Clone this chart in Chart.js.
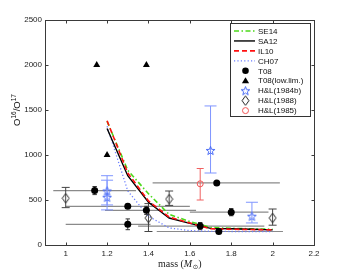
<!DOCTYPE html>
<html><head><meta charset="utf-8">
<script src="https://cdn.jsdelivr.net/npm/chart.js@4/dist/chart.umd.min.js"></script>
<style>html,body{margin:0;padding:0;background:#fff;}#wrap{width:347px;height:276px;}</style>
</head><body><div id="wrap"><canvas id="c" width="347" height="276"></canvas></div>
<script>
// ---- data ----
const xTicks = [1, 1.2, 1.4, 1.6, 1.8, 2, 2.2];
const xTickLabels = ['1', '1.2', '1.4', '1.6', '1.8', '2', '2.2'];
const yTicks = [0, 500, 1000, 1500, 2000, 2500];
const yTickLabels = ['0', '500', '1000', '1500', '2000', '2500'];

const modelMass = [1.2, 1.3, 1.4, 1.5, 1.6, 1.7, 1.8, 1.9, 2.0];
const se14 = [1375, 830, 570, 340, 260, 195, 185, 180, 175];
const sa12 = [1295, 770, 475, 300, 240, 185, 180, 175, 168];
const il10 = [1380, 800, 490, 310, 245, 180, 175, 172, 168];
const ch07 = [1320, 600, 320, 190, 160, 152, 150, 150, 150];

const t08Mass = [1.14, 1.30, 1.30, 1.39, 1.65, 1.73, 1.74, 1.80];
const t08Ratio = [605, 430, 230, 385, 210, 690, 150, 365];
const t08RatioErr = [45, 25, 60, 45, 40, 0, 0, 40];
const t08MassLo = [0.94, 1.00, 1.00, 1.19, 1.35, 1.42, 1.44, 1.60];
const t08MassHi = [1.34, 1.60, 1.41, 1.63, 1.96, 2.035, 2.05, 1.98];

const t08LimMass = [1.15, 1.39, 1.2];
const t08LimRatio = [2000, 2000, 1000];

const hl84Mass = [1.2, 1.2, 1.7, 1.9];
const hl84Ratio = [600, 530, 1050, 320];
const hl84Lo = [445, 390, 800, 245];
const hl84Hi = [770, 720, 1545, 475];

const hl88Mass = [1.0, 1.4, 1.5, 2.0];
const hl88Ratio = [520, 300, 510, 300];
const hl88Lo = [415, 150, 440, 220];
const hl88Hi = [640, 460, 600, 400];

const hl85Mass = [1.65];
const hl85Ratio = [680];
const hl85Lo = [500];
const hl85Hi = [850];

const legendLabels = ['SE14', 'SA12', 'IL10', 'CH07', 'T08', 'T08(low.lim.)', 'H&L(1984b)', 'H&L(1988)', 'H&L(1985)'];

// ---- styles ----
const C_GREEN = '#4cd91a', C_RED = '#ff1010', C_BLUE = '#6a7dff', C_STAR = '#4a6cf5', C_CIRC = '#f25555';

function pts(xs, ys) { return xs.map((x, i) => ({x: x, y: ys[i]})); }

function makeStar(color) {
  const s = 11, c = document.createElement('canvas'); c.width = s; c.height = s;
  const g = c.getContext('2d'); g.strokeStyle = color; g.lineWidth = 1;
  g.beginPath();
  for (let k = 0; k < 10; k++) {
    const a = -Math.PI / 2 + k * Math.PI / 5, r = (k % 2) ? 1.9 : 4.6;
    const px = s / 2 + r * Math.cos(a), py = s / 2 + 0.4 + r * Math.sin(a);
    if (k) g.lineTo(px, py); else g.moveTo(px, py);
  }
  g.closePath(); g.stroke(); return c;
}
function makeDiamond(color) {
  const w = 9, h = 11, c = document.createElement('canvas'); c.width = w; c.height = h;
  const g = c.getContext('2d'); g.strokeStyle = color; g.lineWidth = 1;
  g.beginPath(); g.moveTo(4.5, 0.8); g.lineTo(8, 5.5); g.lineTo(4.5, 10.2); g.lineTo(1, 5.5); g.closePath(); g.stroke();
  return c;
}
const starImg = makeStar(C_STAR);
const diamondImg = makeDiamond('#222');

const lineSpecs = [
  {color: C_GREEN, dash: [5, 2.5, 1.5, 2.5], width: 1.6},
  {color: '#000', dash: [], width: 1.4},
  {color: C_RED, dash: [5, 3], width: 1.6},
  {color: C_BLUE, dash: [1.2, 2.2], width: 1.3}
];

const datasets = [
  {type: 'line', data: pts(modelMass, se14), borderColor: C_GREEN, borderDash: lineSpecs[0].dash, borderWidth: 1.6, pointRadius: 0, fill: false, order: 8},
  {type: 'line', data: pts(modelMass, sa12), borderColor: '#000', borderWidth: 1.4, pointRadius: 0, fill: false, order: 7},
  {type: 'line', data: pts(modelMass, il10), borderColor: C_RED, borderDash: lineSpecs[2].dash, borderWidth: 1.6, pointRadius: 0, fill: false, order: 6},
  {type: 'line', data: pts(modelMass, ch07), borderColor: C_BLUE, borderDash: lineSpecs[3].dash, borderWidth: 1.3, pointRadius: 0, fill: false, order: 9},
  {type: 'scatter', data: pts(t08Mass, t08Ratio), pointStyle: 'circle', pointRadius: 3.5, backgroundColor: '#000', borderColor: '#000', borderWidth: 0, order: 1},
  {type: 'scatter', data: pts(t08LimMass, t08LimRatio), pointStyle: 'triangle', pointRadius: 4, backgroundColor: '#000', borderColor: '#000', borderWidth: 0, order: 1},
  {type: 'scatter', data: pts(hl84Mass, hl84Ratio), pointStyle: starImg, pointRadius: 5, order: 1},
  {type: 'scatter', data: pts(hl88Mass, hl88Ratio), pointStyle: diamondImg, pointRadius: 5, order: 1},
  {type: 'scatter', data: pts(hl85Mass, hl85Ratio), pointStyle: 'circle', pointRadius: 3, backgroundColor: 'rgba(0,0,0,0)', borderColor: C_CIRC, borderWidth: 1, order: 1}
];

function vbar(ctx, xs, ys, x, lo, hi, cap, color, lw) {
  const px = xs.getPixelForValue(x), p1 = ys.getPixelForValue(lo), p2 = ys.getPixelForValue(hi);
  ctx.strokeStyle = color; ctx.lineWidth = lw;
  ctx.beginPath();
  ctx.moveTo(px, p1); ctx.lineTo(px, p2);
  ctx.moveTo(px - cap, p1); ctx.lineTo(px + cap, p1);
  ctx.moveTo(px - cap, p2); ctx.lineTo(px + cap, p2);
  ctx.stroke();
}

const deco = {
  id: 'deco',
  beforeDatasetsDraw(chart) {
    const ctx = chart.ctx, xs = chart.scales.x, ys = chart.scales.y;
    ctx.save();
    // horizontal error bars (T08)
    ctx.strokeStyle = '#8a8a8a'; ctx.lineWidth = 1.2;
    t08Mass.forEach((m, i) => {
      const py = ys.getPixelForValue(t08Ratio[i]);
      ctx.beginPath(); ctx.moveTo(xs.getPixelForValue(t08MassLo[i]), py); ctx.lineTo(xs.getPixelForValue(t08MassHi[i]), py); ctx.stroke();
    });
    // vertical error bars
    t08Mass.forEach((m, i) => { if (t08RatioErr[i] > 0) vbar(ctx, xs, ys, m, t08Ratio[i] - t08RatioErr[i], t08Ratio[i] + t08RatioErr[i], 2.2, '#333', 1); });
    hl84Mass.forEach((m, i) => vbar(ctx, xs, ys, m, hl84Lo[i], hl84Hi[i], 6, '#7f95ff', 1));
    hl88Mass.forEach((m, i) => vbar(ctx, xs, ys, m, hl88Lo[i], hl88Hi[i], 4, '#444', 1));
    hl85Mass.forEach((m, i) => vbar(ctx, xs, ys, m, hl85Lo[i], hl85Hi[i], 3.5, '#f06060', 1));
    ctx.restore();
  },
  afterDraw(chart) {
    const ctx = chart.ctx, a = chart.chartArea, xs = chart.scales.x, ys = chart.scales.y;
    ctx.save();
    // box
    ctx.strokeStyle = '#3a3a3a'; ctx.lineWidth = 1;
    const L = Math.round(a.left) + 0.5, R = Math.round(a.right) + 0.5, T = Math.round(a.top) + 0.5, B = Math.round(a.bottom) + 0.5;
    ctx.strokeRect(L, T, R - L, B - T);
    // inward ticks
    ctx.beginPath();
    xTicks.forEach(v => { const p = Math.round(xs.getPixelForValue(v)) + 0.5; ctx.moveTo(p, B); ctx.lineTo(p, B - 3); ctx.moveTo(p, T); ctx.lineTo(p, T + 3); });
    yTicks.forEach(v => { const p = Math.round(ys.getPixelForValue(v)) + 0.5; ctx.moveTo(L, p); ctx.lineTo(L + 3, p); ctx.moveTo(R, p); ctx.lineTo(R - 3, p); });
    ctx.stroke();

    // legend
    const lx = 230.5, ly = 23.5, lw = 80, lh = 93;
    ctx.fillStyle = '#fff'; ctx.fillRect(lx, ly, lw, lh);
    ctx.strokeStyle = '#333'; ctx.lineWidth = 1; ctx.strokeRect(lx, ly, lw, lh);
    ctx.font = '8px "Liberation Sans", Arial, sans-serif'; ctx.textBaseline = 'middle'; ctx.fillStyle = '#111';
    legendLabels.forEach((lab, i) => {
      const y = 31 + i * 9.95;
      if (i < 4) {
        const s = lineSpecs[i];
        ctx.save(); ctx.strokeStyle = s.color; ctx.lineWidth = s.width; ctx.setLineDash(s.dash);
        ctx.beginPath(); ctx.moveTo(234, y); ctx.lineTo(255, y); ctx.stroke(); ctx.restore();
      } else {
        const mx = 245.5;
        if (i === 4) { ctx.beginPath(); ctx.arc(mx, y, 3.3, 0, Math.PI * 2); ctx.fillStyle = '#000'; ctx.fill(); }
        else if (i === 5) { ctx.beginPath(); ctx.moveTo(mx, y - 3.6); ctx.lineTo(mx + 3.6, y + 2.6); ctx.lineTo(mx - 3.6, y + 2.6); ctx.closePath(); ctx.fillStyle = '#000'; ctx.fill(); }
        else if (i === 6) { ctx.drawImage(starImg, mx - starImg.width / 2, y - starImg.height / 2); }
        else if (i === 7) { ctx.drawImage(diamondImg, mx - diamondImg.width / 2, y - diamondImg.height / 2); }
        else { ctx.beginPath(); ctx.arc(mx, y, 3, 0, Math.PI * 2); ctx.strokeStyle = C_CIRC; ctx.lineWidth = 1; ctx.stroke(); }
        ctx.fillStyle = '#111';
      }
      ctx.fillText(lab, 258, y + 0.5);
    });

    // y axis title O16/O17
    ctx.save();
    ctx.translate(19.5, 110); ctx.rotate(-Math.PI / 2);
    ctx.fillStyle = '#111'; ctx.textBaseline = 'alphabetic';
    const big = '9.5px "Liberation Sans", Arial, sans-serif', sm = '6.5px "Liberation Sans", Arial, sans-serif';
    const parts = [['O', big, 0], ['16', sm, -4], ['/O', big, 0], ['17', sm, -4]];
    let tw = 0; parts.forEach(p => { ctx.font = p[1]; tw += ctx.measureText(p[0]).width; });
    let cx = -tw / 2;
    parts.forEach(p => { ctx.font = p[1]; ctx.fillText(p[0], cx, p[2]); cx += ctx.measureText(p[0]).width; });
    ctx.restore();

    // x axis title mass (M_sun)
    ctx.fillStyle = '#222'; ctx.textBaseline = 'alphabetic';
    const serif = '10px "Liberation Serif", "Times New Roman", serif', serifI = 'italic 10px "Liberation Serif", "Times New Roman", serif', symF = '6.5px "DejaVu Sans", sans-serif';
    const xp = [['mass (', serif, 0], ['M', serifI, 0], ['\u2299', symF, 2], [')', serif, 0]];
    let w2 = 0; xp.forEach(p => { ctx.font = p[1]; w2 += ctx.measureText(p[0]).width; });
    let x2 = (a.left + a.right) / 2 - w2 / 2;
    xp.forEach(p => { ctx.font = p[1]; ctx.fillText(p[0], x2, 267 + p[2]); x2 += ctx.measureText(p[0]).width + (p[0] === 'M' ? 0.5 : 0); });
    ctx.restore();
  }
};

new Chart(document.getElementById('c').getContext('2d'), {
  type: 'scatter',
  data: {datasets: datasets},
  options: {
    responsive: false, animation: false, devicePixelRatio: 1,
    layout: {padding: {top: 20, right: 33, left: 0, bottom: 0}},
    plugins: {legend: {display: false}, tooltip: {enabled: false}},
    scales: {
      x: {
        type: 'linear', min: 0.9, max: 2.2,
        afterBuildTicks: s => { s.ticks = xTicks.map(v => ({value: v})); },
        afterFit: s => { s.height = 31; },
        grid: {display: false, drawTicks: false}, border: {display: false},
        ticks: {padding: 4, color: '#222', autoSkip: false, maxRotation: 0, font: {family: '"Liberation Sans", Arial, sans-serif', size: 8},
          callback: (v, i) => xTickLabels[i]}
      },
      y: {
        type: 'linear', min: 0, max: 2500,
        afterBuildTicks: s => { s.ticks = yTicks.map(v => ({value: v})); },
        afterFit: s => { s.width = 45; },
        grid: {display: false, drawTicks: false}, border: {display: false},
        ticks: {padding: 3, color: '#222', autoSkip: false, font: {family: '"Liberation Sans", Arial, sans-serif', size: 8},
          callback: (v, i) => yTickLabels[i]}
      }
    }
  },
  plugins: [deco]
});
</script></body></html>
